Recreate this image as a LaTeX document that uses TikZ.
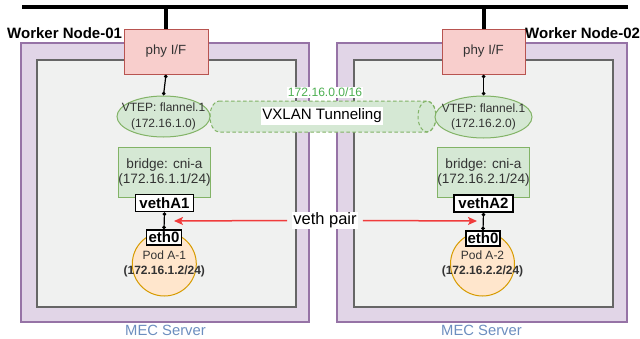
\documentclass[tikz,border=0pt]{standalone}
\usepackage{fontspec}
\setmainfont{Liberation Sans}
\usetikzlibrary{arrows.meta,shapes.geometric}

\definecolor{grnF}{HTML}{D5E8D4}
\definecolor{grnB}{HTML}{82B366}
\definecolor{grnT}{HTML}{4CAF50}
\definecolor{pnkF}{HTML}{F8CECC}
\definecolor{pnkB}{HTML}{B85450}
\definecolor{purF}{HTML}{E1D5E7}
\definecolor{purB}{HTML}{9673A6}
\definecolor{orgF}{HTML}{FFE6CC}
\definecolor{orgB}{HTML}{D79B00}
\definecolor{hostF}{HTML}{F0F1F0}
\definecolor{hostB}{HTML}{666666}
\definecolor{mecT}{HTML}{6C8EBF}
\definecolor{vethR}{HTML}{F03C3C}
\definecolor{txtG}{HTML}{333333}

\tikzset{
  server/.style={draw=purB, fill=purF, line width=1.5pt, inner sep=0pt},
  hostbox/.style={draw=hostB, fill=hostF, line width=1.2pt, inner sep=0pt},
  phybox/.style={draw=pnkB, fill=pnkF, line width=1pt, inner sep=0pt,
    minimum height=45pt, text=txtG, font=\fontsize{13.3}{16}\selectfont},
  vtep/.style={ellipse, draw=grnB, fill=grnF, line width=1pt, inner sep=0pt},
  vteptext/.style={inner sep=0pt, text=txtG, align=center, font=\fontsize{12}{15.5}\selectfont},
  bridgebox/.style={draw=grnB, fill=grnF, line width=1pt, inner sep=0pt,
    minimum height=50pt, text=txtG, align=center, font=\fontsize{13.6}{15}\selectfont},
  ifbox/.style={draw=black, fill=white, line width=1.2pt, inner sep=0pt,
    font=\bfseries\fontsize{15}{17}\selectfont},
  podnode/.style={circle, draw=orgB, fill=orgF, line width=1pt, inner sep=0pt,
    minimum size=64pt},
  podtext/.style={inner sep=0pt, text=txtG, align=center, font=\fontsize{12}{14.5}\selectfont},
  hostlabel/.style={anchor=west, inner sep=0pt, font=\bfseries\fontsize{15}{17}\selectfont},
  meclabel/.style={text=mecT, inner sep=0pt, font=\fontsize{14.8}{17}\selectfont},
  link/.style={line width=1.2pt, {Diamond[length=4pt,width=4pt]}-{Diamond[length=4pt,width=4pt]}},
  bus/.style={line width=4pt},
  tunnel/.style={draw=grnB, fill=grnF, line width=1pt, dash pattern=on 3.5pt off 2.5pt},
  vethlink/.style={draw=vethR, line width=1.5pt, -{Stealth[length=9pt,width=8pt,inset=2pt]}},
}

\begin{document}
\begin{tikzpicture}[x=1pt,y=-1pt]
\useasboundingbox (0,0) rectangle (640,338);

% servers and host areas
\node[server, minimum width=288pt, minimum height=279pt] (srv1) at (165,182.5) {};
\node[hostbox, minimum width=259pt, minimum height=247pt] (host1) at (166.5,183.5) {};
\node[server, minimum width=290pt, minimum height=279pt] (srv2) at (482,182.5) {};
\node[hostbox, minimum width=259pt, minimum height=247pt] (host2) at (483.5,183.5) {};

\node[meclabel] (mec1) at (165.5,330) {MEC Server};
\node[meclabel] (mec2) at (481.5,330) {MEC Server};

% physical network
\coordinate (busL) at (22,7);
\coordinate (busR) at (628,7);
\draw[bus] (busL) -- (busR);

\node[phybox, minimum width=84pt] (phy1) at (166,51.5) {phy I/F};
\node[phybox, minimum width=83pt] (phy2) at (483.5,51.5) {phy I/F};
\draw[bus] (phy1.north) -- (phy1.north |- busL);
\draw[bus] (phy2.north) -- (phy2.north |- busL);

\node[hostlabel] (wn1) at (7,33) {Worker Node-01};
\node[hostlabel] (wn2) at (525,33) {Worker Node-02};

% VXLAN tunnel body and far end
\path[tunnel] (219,101) -- (427,101)
  arc[start angle=-90, end angle=90, x radius=9, y radius=15.5]
  -- (219,132)
  arc[start angle=90, end angle=270, x radius=9, y radius=15.5] -- cycle;
\draw[tunnel, fill=none] (427,116.5) ellipse [x radius=9, y radius=15.5];
\node[fill=white, inner sep=1.5pt, font=\fontsize{15.1}{17}\selectfont] (vxlan) at (322,116) {VXLAN Tunneling};
\node[text=grnT, fill=white, inner sep=1pt, font=\fontsize{12.1}{14}\selectfont] (subnet) at (325,92.5) {172.16.0.0/16};

% VTEPs
\node[vtep, minimum width=93pt, minimum height=41pt] (vtep1) at (163.5,116.5) {};
\node[vteptext] (vtep1t) at (vtep1) {VTEP: flannel.1\\(172.16.1.0)};
\node[vtep, minimum width=97pt, minimum height=42pt] (vtep2) at (483.5,117) {};
\node[vteptext] (vtep2t) at (vtep2) {VTEP: flannel.1\\(172.16.2.0)};

% bridges
\node[bridgebox, minimum width=85pt] (br1) at (164.5,172) {bridge: cni-a\\(172.16.1.1/24)};
\node[bridgebox, minimum width=84pt] (br2) at (483.5,172) {bridge: cni-a\\(172.16.2.1/24)};

% veth ends on the bridge side
\node[ifbox, minimum width=58pt, minimum height=17pt] (veth1) at (164.5,203) {vethA1};
\node[ifbox, minimum width=59pt, minimum height=17pt] (veth2) at (483.5,203.5) {vethA2};

% pods
\node[podnode] (pod1) at (164.3,264) {};
\node[podtext] (pod1t) at (pod1) {Pod A-1\\\textbf{(172.16.1.2/24)}};
\node[podnode] (pod2) at (482.5,264) {};
\node[podtext] (pod2t) at (pod2) {Pod A-2\\\textbf{(172.16.2.2/24)}};
\node[ifbox, minimum width=35pt, minimum height=15pt] (eth1) at (164,237.5) {eth0};
\node[ifbox, minimum width=34pt, minimum height=15pt] (eth2) at (483,238.5) {eth0};

% links
\draw[link] (phy1.south) -- (vtep1.north);
\draw[link] (phy2.south) -- (vtep2.north);
\draw[link] (veth1.south) -- (eth1.north);
\draw[link] (veth2.south) -- (eth2.north);

% veth pair callout
\node[fill=white, inner sep=1pt, font=\fontsize{16.5}{19}\selectfont] (vp) at (325,220.5) {veth pair};
\coordinate (tipL) at (174,221);
\coordinate (tipR) at (477,221);
\draw[vethlink] (vp.west) ++(-5,0) coordinate (vpL) (vpL) -- (tipL);
\draw[vethlink] (vp.east) ++(5,0) coordinate (vpR) (vpR) -- (tipR);
\end{tikzpicture}
\end{document}
